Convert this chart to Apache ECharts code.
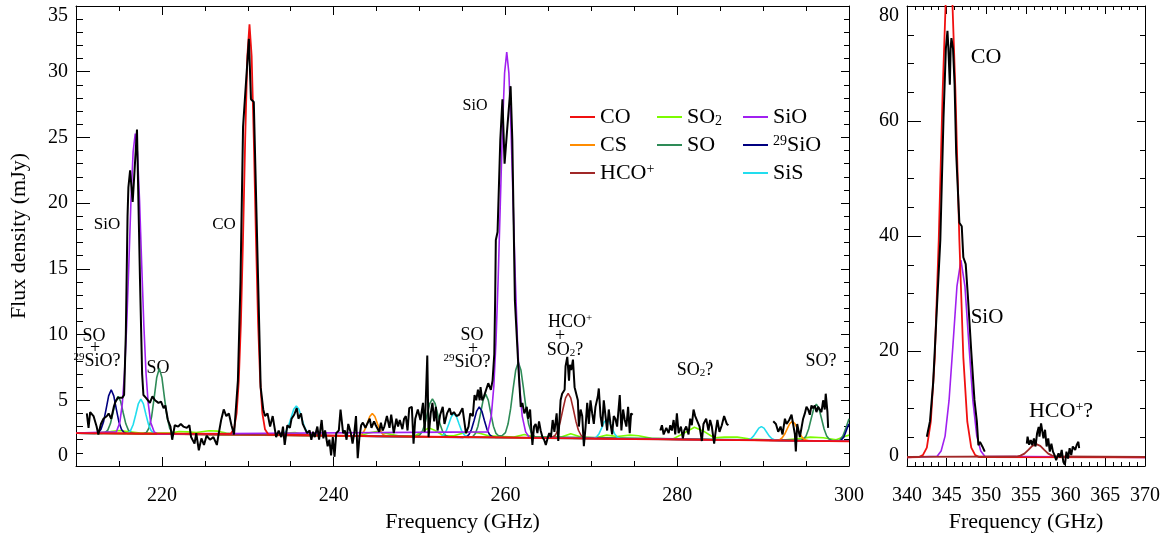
<!DOCTYPE html>
<html>
<head>
<meta charset="utf-8">
<title>Spectrum</title>
<script src="https://cdn.jsdelivr.net/npm/echarts@6/dist/echarts.min.js"></script>
<style>
html, body { margin: 0; padding: 0; background: #fff; }
#chart { width: 1166px; height: 544px; }
</style>
</head>
<body>
<div id="chart"></div>
<script>
const FONT = 'Liberation Serif'

// observed spectrum, 210-300 GHz panel (pieces between gaps)
const obsA = [[211.26,4.0],[211.46,2.9],[211.65,4.1],[212.04,3.8],[212.4,3.0],[212.6,2.4],[212.9,3.2],[213.2,3.6],[213.6,3.8],[213.8,4.0],[214.1,3.6],[214.4,4.5],[214.6,4.9],[214.9,5.2],[215.1,5.3],[215.4,5.2],[215.6,5.4],[215.8,10.0],[216.0,19.0],[216.1,21.2],[216.3,22.5],[216.6,20.1],[217.1,25.6],[217.45,14.2],[217.7,7.0],[217.85,5.4],[218.2,5.15],[218.6,4.8],[218.9,5.3],[219.2,5.0],[219.6,4.8],[219.9,4.9],[220.2,4.4],[220.4,4.6],[220.7,3.5],[221.0,3.0],[221.2,2.0],[221.5,3.1],[221.9,3.0],[222.2,3.2],[222.5,3.0],[222.9,2.9],[223.2,3.1],[223.4,2.2],[223.8,1.7],[224.0,2.5],[224.3,1.2],[224.6,2.1],[224.9,1.6],[225.2,2.3],[225.6,2.0],[226.0,2.2],[226.4,1.6],[226.6,2.4],[226.9,3.5],[227.2,4.3],[227.5,3.8],[227.8,4.0],[228.1,3.1],[228.4,2.4],[228.55,2.5],[228.85,6.5],[229.15,14.0],[229.45,25.8],[230.13,32.5],[230.37,27.9],[230.7,27.7],[231.2,14.2],[231.5,6.0],[231.8,4.3],[232.0,3.8],[232.3,4.0],[232.6,3.0],[232.9,3.8],[233.3,2.2],[233.6,2.7],[233.9,2.2],[234.1,3.0],[234.3,1.6],[234.6,3.1],[234.9,2.9],[235.1,3.6],[235.4,3.9],[235.7,4.4],[235.9,3.6],[236.2,4.0],[236.4,3.2],[236.6,3.1],[236.9,2.5],[237.2,2.7],[237.4,2.0],[237.6,2.6],[237.8,2.2],[238.1,3.0],[238.3,2.0],[238.6,3.5],[238.8,2.1],[239.0,2.7],[239.3,1.5],[239.5,2.0],[239.7,0.8],[239.9,2.2],[240.1,0.7],[240.3,2.5],[240.6,2.7],[240.8,4.3],[241.1,2.5],[241.3,2.7],[241.5,2.0],[241.7,3.2],[242.0,2.5],[242.2,1.7],[242.4,2.5],[242.6,3.8],[242.8,0.6],[243.0,2.2],[243.2,3.1],[243.4,3.3],[243.7,2.9],[243.9,3.2],[244.2,3.6],[244.4,2.9],[244.7,3.4],[244.9,3.1],[245.1,3.0],[245.3,2.6],[245.5,3.3],[245.7,2.7],[245.9,3.0],[246.2,3.8],[246.5,2.9],[246.7,3.9],[247.0,2.5],[247.3,3.6],[247.5,3.0],[247.7,3.5],[248.0,2.8],[248.2,3.6],[248.4,3.8],[248.6,2.7],[248.8,4.4],[249.1,4.5],[249.3,1.7],[249.5,3.6],[249.8,4.3],[250.1,3.5],[250.4,4.8],[250.6,2.6],[250.9,8.4],[251.05,2.2],[251.3,4.0],[251.5,4.8],[251.7,3.4],[251.9,4.5],[252.1,2.7],[252.4,3.9],[252.7,4.5],[252.9,3.2],[253.2,4.0],[253.5,4.4],[253.7,3.9],[254.0,4.1],[254.3,3.8],[254.6,3.9],[255.0,4.4],[255.4,2.5],[255.7,3.0],[255.9,4.0],[256.2,3.8],[256.4,5.4],[256.6,5.0],[256.8,5.8],[257.0,5.0],[257.1,6.0],[257.3,5.0],[257.5,5.3],[257.8,5.9],[258.0,6.3],[258.3,5.8],[258.5,6.5],[258.7,8.5],[258.8,12.6],[258.88,17.2],[259.08,17.8],[259.4,24.8],[259.65,27.9],[259.9,23.0],[260.2,25.6],[260.6,28.9],[260.8,24.8],[261.1,12.6],[261.5,7.6],[261.78,4.5],[261.97,4.8],[262.2,4.0],[262.48,4.5],[262.63,3.6],[262.87,4.3],[263.02,2.7],[263.14,1.6],[263.33,3.0],[263.52,3.2],[263.72,2.5],[263.91,3.4],[264.1,2.7],[264.3,2.2],[264.5,2.0],[264.7,1.6],[264.9,2.1],[265.1,2.5],[265.3,2.2],[265.5,3.5],[265.7,2.6],[265.96,4.0],[266.15,1.9],[266.42,5.0],[266.6,5.5],[266.89,5.8],[267.0,7.6],[267.2,8.3],[267.4,6.5],[267.5,7.7],[267.66,7.3],[267.86,8.1],[268.05,6.0],[268.24,5.5],[268.43,5.0],[268.55,3.0],[268.75,4.3],[268.94,3.8],[269.13,1.5],[269.33,3.0],[269.52,4.8],[269.71,3.2],[269.9,5.0],[270.1,4.0],[270.29,3.2],[270.48,4.5],[270.76,5.3],[270.87,5.9],[271.07,3.8],[271.26,3.0],[271.45,5.0],[271.65,3.8],[271.84,2.7],[272.03,4.3],[272.23,3.2],[272.42,2.4],[272.61,3.8],[272.8,3.6],[273.0,3.0],[273.31,5.4],[273.5,2.7],[273.7,4.3],[273.89,3.5],[274.08,3.0],[274.28,4.5],[274.47,2.5],[274.63,4.0],[274.82,3.9]]
const obsB = [[278.03,2.7],[278.22,3.1],[278.42,2.4],[278.73,2.9],[279.0,2.5],[279.19,3.1],[279.38,2.7],[279.58,3.5],[279.77,2.4],[279.96,4.0],[280.16,2.5],[280.43,3.0],[280.66,2.1],[280.82,2.7],[281.05,3.0],[281.32,2.4],[281.51,3.6],[281.7,3.1],[281.9,4.3],[282.09,3.8],[282.28,3.9],[282.6,3.0],[282.87,1.9],[283.06,3.2],[283.37,3.6],[283.64,2.7],[283.83,3.5],[284.03,3.0],[284.3,1.7],[284.45,2.5],[284.68,3.5],[284.92,2.6],[285.19,3.1],[285.46,3.8],[285.61,3.9],[285.77,3.2],[285.96,3.1]]
const obsC = [[291.18,3.4],[291.49,3.2],[291.76,2.6],[292.03,3.0],[292.26,2.4],[292.54,3.6],[292.73,3.2],[293.04,3.5],[293.31,3.9],[293.5,4.0],[293.7,2.4],[293.81,1.1],[293.97,3.2],[294.28,2.2],[294.47,2.9],[294.66,3.6],[294.86,4.0],[295.05,4.5],[295.24,4.3],[295.44,3.9],[295.63,4.6],[295.82,4.4],[296.01,4.6],[296.21,4.1],[296.4,4.5],[296.6,4.6],[296.79,4.1],[296.99,5.0],[297.18,4.3],[297.29,5.5],[297.49,4.1],[297.57,2.9]]

// observed spectrum, 340-370 GHz panel
const obsD = [[342.5,5.1],[342.9,7.8],[343.3,14.5],[343.8,28.4],[344.2,39.3],[344.6,60.5],[344.9,72.6],[345.1,75.7],[345.2,73.1],[345.4,66.3],[345.5,72.6],[345.6,74.4],[345.8,72.6],[346.0,66.3],[346.2,54.4],[346.6,42.3],[346.9,41.7],[347.1,36.3],[347.4,35.1],[347.7,29.0],[348.1,19.9],[348.5,11.5],[348.8,7.8],[349.0,3.6],[349.2,4.2],[349.5,3.4],[349.8,2.5]]
const obsE = [[355.1,3.9],[355.2,5.1],[355.4,3.7],[355.6,4.5],[355.8,3.6],[356.0,4.8],[356.2,3.4],[356.4,5.7],[356.6,6.8],[356.7,5.1],[356.9,7.4],[357.2,4.8],[357.4,6.3],[357.6,3.4],[357.8,4.8],[358.0,2.5],[358.2,3.9],[358.4,2.5],[358.6,1.9],[358.8,1.0],[359.1,2.2],[359.3,1.5],[359.5,2.8],[359.7,0.75],[359.9,0.2],[360.1,2.5],[360.3,1.3],[360.5,3.1],[360.7,1.9],[360.9,3.4],[361.2,2.8],[361.4,3.7],[361.6,4.2],[361.7,3.1]]

// model curves (continuum included), 210-300 GHz
const modelCO = [[210,2.5],[228.0,2.44],[228.4,2.83],[228.7,4.0],[228.95,6.45],[229.2,10.9],[229.45,17.4],[229.7,24.9],[229.95,31.2],[230.2,33.6],[230.45,31.2],[230.7,24.9],[230.95,17.4],[231.2,10.9],[231.45,6.4],[231.7,4.0],[232.0,2.8],[232.4,2.4],[245,2.26],[260,2.16],[275,2.05],[290,1.95],[300,1.88]]
const modelSiO = [[210,2.5],[214.7,2.6],[215.1,3.3],[215.4,4.8],[215.65,7.1],[215.9,10.7],[216.15,15.3],[216.4,20.2],[216.65,23.9],[216.9,25.3],[217.15,23.9],[217.4,20.2],[217.65,15.3],[217.9,10.7],[218.15,7.1],[218.4,4.8],[218.7,3.3],[219.1,2.6],[219.5,2.44],[257.95,2.6],[258.35,3.8],[258.65,6.1],[258.9,9.5],[259.15,14.2],[259.4,19.9],[259.65,25.6],[259.9,29.9],[260.15,31.5],[260.4,29.9],[260.65,25.6],[260.9,19.9],[261.15,14.2],[261.4,9.5],[261.65,6.1],[261.95,3.8],[262.35,2.6],[262.8,2.15],[300,1.88]]
const modelSO = [[210,2.5],[213.0,2.48],[213.4,2.54],[213.7,2.73],[214.0,3.21],[214.3,4.03],[214.6,4.91],[214.9,5.3],[215.2,4.91],[215.5,4.03],[215.8,3.21],[216.1,2.73],[216.4,2.54],[216.8,2.47],[217.8,2.44],[218.2,2.55],[218.5,2.89],[218.8,3.74],[219.1,5.19],[219.4,6.74],[219.7,7.43],[220.0,6.74],[220.3,5.19],[220.6,3.74],[220.9,2.89],[221.2,2.55],[221.6,2.43],[249.6,2.23],[250.0,2.34],[250.3,2.6],[250.6,3.15],[250.9,3.97],[251.2,4.77],[251.5,5.11],[251.8,4.77],[252.1,3.97],[252.4,3.15],[252.7,2.6],[253.0,2.34],[253.4,2.21],[255.8,2.18],[256.2,2.25],[256.5,2.48],[256.8,3.03],[257.1,3.99],[257.4,5.01],[257.7,5.47],[258.0,5.01],[258.3,3.99],[258.6,3.03],[258.9,2.48],[259.2,2.3],[259.6,2.3],[260.0,2.54],[260.3,3.19],[260.6,4.34],[260.9,5.9],[261.2,7.31],[261.5,7.89],[261.8,7.31],[262.1,5.9],[262.4,4.34],[262.7,3.19],[263.0,2.54],[263.4,2.22],[294.3,1.93],[294.7,2.03],[295.0,2.29],[295.3,2.82],[295.6,3.61],[295.9,4.38],[296.2,4.71],[296.5,4.38],[296.8,3.61],[297.1,2.82],[297.4,2.29],[297.7,2.03],[298.1,1.92],[298.9,1.95],[299.3,2.3],[299.7,3.0],[300,3.6]]
const model29SiO = [[210,2.5],[212.2,2.48],[212.6,2.55],[212.9,2.78],[213.2,3.34],[213.5,4.31],[213.8,5.34],[214.1,5.8],[214.4,5.34],[214.7,4.31],[215.0,3.34],[215.3,2.78],[215.6,2.55],[216.0,2.47],[255.05,2.18],[255.45,2.24],[255.75,2.39],[256.05,2.79],[256.35,3.46],[256.65,4.18],[256.95,4.5],[257.25,4.18],[257.55,3.46],[257.85,2.79],[258.15,2.39],[258.45,2.24],[258.85,2.17],[299.0,1.9],[299.4,2.2],[299.8,2.9],[300,3.2]]
const modelSiS = [[210,2.5],[215.65,2.45],[216.05,2.51],[216.35,2.69],[216.65,3.14],[216.95,3.9],[217.25,4.72],[217.55,5.08],[217.85,4.72],[218.15,3.9],[218.45,3.14],[218.75,2.69],[219.05,2.51],[219.45,2.44],[233.75,2.35],[234.15,2.43],[234.45,2.63],[234.75,3.06],[235.05,3.69],[235.35,4.31],[235.65,4.57],[235.95,4.31],[236.25,3.69],[236.55,3.06],[236.85,2.63],[237.15,2.43],[237.55,2.32],[252.1,2.2],[252.5,2.24],[252.8,2.37],[253.1,2.67],[253.4,3.19],[253.7,3.75],[254.0,4.0],[254.3,3.75],[254.6,3.19],[254.9,2.67],[255.2,2.37],[255.5,2.24],[255.9,2.18],[269.9,2.07],[270.3,2.11],[270.6,2.21],[270.9,2.46],[271.2,2.89],[271.5,3.35],[271.8,3.55],[272.1,3.35],[272.4,2.89],[272.7,2.46],[273.0,2.21],[273.3,2.11],[273.7,2.06],[287.9,1.96],[288.3,2.0],[288.6,2.09],[288.9,2.29],[289.2,2.59],[289.5,2.88],[289.8,3.0],[290.1,2.88],[290.4,2.59],[290.7,2.29],[291.0,2.09],[291.3,2.0],[291.7,1.94],[300,1.88]]
const modelCS = [[210,2.5],[242.6,2.27],[243.0,2.31],[243.3,2.43],[243.6,2.72],[243.9,3.22],[244.2,3.76],[244.5,4.0],[244.8,3.76],[245.1,3.22],[245.4,2.72],[245.7,2.43],[246.0,2.31],[246.4,2.26],[291.5,1.94],[291.9,1.99],[292.2,2.13],[292.5,2.41],[292.8,2.82],[293.1,3.23],[293.4,3.4],[293.7,3.23],[294.0,2.82],[294.3,2.41],[294.6,2.13],[294.9,1.99],[295.3,1.92],[300,1.88]]
const modelHCO = [[210,2.5],[265.4,2.15],[265.8,2.34],[266.1,2.72],[266.4,3.41],[266.7,4.34],[267.0,5.18],[267.3,5.53],[267.6,5.18],[267.9,4.34],[268.2,3.41],[268.5,2.72],[268.8,2.34],[269.2,2.1],[300,1.88]]
const modelSO2 = [[210,2.5],[212.5,2.52],[214.0,2.62],[215.0,2.7],[216.0,2.62],[217.5,2.5],[221.0,2.5],[222.0,2.62],[223.0,2.6],[224.0,2.55],[225.5,2.68],[226.5,2.65],[227.5,2.5],[229,2.4],[233,2.36],[234.5,2.5],[235.5,2.55],[236.5,2.4],[238,2.3],[243,2.3],[244,2.5],[245,2.62],[246,2.5],[247.5,2.3],[249.5,2.3],[250.5,2.7],[251.1,2.9],[251.8,2.7],[252.8,2.3],[254,2.3],[255,2.5],[256,2.6],[257,2.5],[258,2.3],[261,2.2],[262.2,2.4],[263.3,2.2],[266.5,2.2],[267.6,2.45],[268.8,2.2],[270.5,2.15],[271.8,2.35],[273,2.25],[274.5,2.35],[275.5,2.3],[277,2.1],[279.5,2.05],[280.8,2.5],[282,2.95],[283.2,2.6],[284.3,2.15],[285.5,2.2],[287,2.2],[288.5,2.05],[292,1.95],[294.5,2.1],[295.5,2.2],[297,2.15],[298.5,2.0],[299.5,2.25],[300,2.35]]

// model curves, 340-370 GHz
const modelCOHigh = [[340,1.5],[341.5,1.55],[342.0,1.9],[342.5,3.2],[343.0,7.7],[343.5,18.9],[344.0,39.3],[344.5,65.4],[345.0,85.6],[345.3,89.5],[345.6,85.6],[346.1,65.4],[346.6,39.3],[347.1,18.9],[347.6,7.7],[348.1,3.2],[348.6,1.9],[349.1,1.55],[370,1.5]]
const modelSiOHigh = [[340,1.5],[343.8,1.7],[344.3,2.6],[344.8,5.2],[345.3,11.4],[345.8,21.2],[346.3,31.3],[346.8,35.8],[347.3,31.3],[347.8,21.2],[348.3,11.4],[348.8,5.2],[349.3,2.6],[349.8,1.7],[370,1.5]]
const modelHCOHigh = [[340,1.6],[353.8,1.65],[354.3,1.8],[354.8,2.15],[355.3,2.8],[355.8,3.5],[356.3,3.8],[356.8,3.5],[357.3,2.8],[357.8,2.15],[358.3,1.8],[358.8,1.65],[370,1.6]]

const xLabelsLeft = [220, 240, 260, 280, 300]

const colors = {
  CO: '#f01010',
  CS: '#ff8c00',
  HCO: '#a02828',
  SO2: '#7cfc00',
  SO: '#2e8b57',
  SiO: '#a020f0',
  SiO29: '#000080',
  SiS: '#22ddee'
}

const richText = (size) => ({
  t: { fontSize: size, fontFamily: FONT, lineHeight: size, color: '#000', fill: '#000' },
  sup: { fontSize: Math.round(size * 0.62), fontFamily: FONT, lineHeight: Math.round(size * 0.35), verticalAlign: 'top', color: '#000', fill: '#000' },
  sub: { fontSize: Math.round(size * 0.62), fontFamily: FONT, lineHeight: Math.round(size * 0.35), verticalAlign: 'bottom', color: '#000', fill: '#000' }
})

const legendNames = {
  'CO': '{t|CO}',
  'CS': '{t|CS}',
  'HCO+': '{t|HCO}{sup|+}',
  'SO2': '{t|SO}{sub|2}',
  'SO': '{t|SO}',
  'SiO': '{t|SiO}',
  '29SiO': '{sup|29}{t|SiO}',
  'SiS': '{t|SiS}'
}

const line = (name, data, color, xi, yi, width) => ({
  name,
  type: 'line',
  data,
  xAxisIndex: xi,
  yAxisIndex: yi,
  color,
  showSymbol: false,
  symbol: 'none',
  lineStyle: { color, width: width || 1.6 },
  animation: false,
  silent: true
})

const xAxis = (grid, pos, min, max, opts) => Object.assign({
  type: 'value',
  gridIndex: grid,
  position: pos,
  min,
  max,
  splitLine: { show: false },
  axisLine: { show: true, onZero: false, lineStyle: { color: '#000', width: 1 } },
  axisLabel: { show: false },
  axisPointer: { show: false }
}, opts)

const yAxis = xAxis

const tick = (len, extra) => Object.assign({ show: true, inside: true, length: len, lineStyle: { color: '#000', width: 1 } }, extra)

const labelStyle = { color: '#000', fontFamily: FONT, fontSize: 20 }
const nameStyle = { color: '#000', fontFamily: FONT, fontSize: 22 }

const notes = [
  [107, 225, '{t|SiO}', 17],
  [224, 225, '{t|CO}', 17],
  [475, 106, '{t|SiO}', 16],
  [94, 336, '{t|SO}', 18],
  [95, 348, '{t|+}', 18],
  [97, 361, '{sup|29}{t|SiO?}', 18],
  [158, 368, '{t|SO}', 18],
  [472, 335, '{t|SO}', 18],
  [473, 349, '{t|+}', 18],
  [467, 362, '{sup|29}{t|SiO?}', 18],
  [570, 322, '{t|HCO}{sup|+}', 18],
  [560, 336, '{t|+}', 18],
  [565, 350, '{t|SO}{sub|2}{t|?}', 18],
  [695, 370, '{t|SO}{sub|2}{t|?}', 18],
  [821, 361, '{t|SO?}', 18],
  [986, 57, '{t|CO}', 22],
  [987, 317, '{t|SiO}', 21],
  [1061, 411, '{t|HCO}{sup|+}{t|?}', 22]
]

const chart = echarts.init(document.getElementById('chart'))

const legendBox = (left, names) => ({
  orient: 'vertical',
  left,
  top: 101,
  data: names,
  icon: 'rect',
  itemWidth: 25,
  itemHeight: 2,
  itemGap: 6,
  selectedMode: false,
  formatter: (n) => legendNames[n],
  textStyle: { rich: richText(22) }
})

chart.setOption({
  backgroundColor: '#fff',
  animation: false,
  grid: [
    { left: 74, right: 317, top: 6, bottom: 78 },
    { left: 907, right: 21, top: 6, bottom: 78 }
  ],
  legend: [
    legendBox(565, ['CO', 'CS', 'HCO+']),
    legendBox(652, ['SO2', 'SO']),
    legendBox(738, ['SiO', '29SiO', 'SiS'])
  ],
  xAxis: [
    xAxis(0, 'bottom', 210, 300, {
      interval: 5,
      axisTick: tick(5),
      axisLabel: Object.assign({ show: true, margin: 20, customValues: xLabelsLeft }, labelStyle),
      name: 'Frequency (GHz)', nameLocation: 'middle', nameGap: 44, nameTextStyle: nameStyle
    }),
    xAxis(0, 'bottom', 210, 300, { interval: 5, axisLine: { show: false, onZero: false }, axisTick: tick(9, { customValues: xLabelsLeft }) }),
    xAxis(0, 'top', 210, 300, { interval: 5, axisTick: tick(5) }),
    xAxis(0, 'top', 210, 300, { interval: 5, axisLine: { show: false, onZero: false }, axisTick: tick(9, { customValues: xLabelsLeft }) }),
    xAxis(1, 'bottom', 340, 370, {
      interval: 5,
      axisTick: tick(8),
      minorTick: { show: true, splitNumber: 5, length: 4, lineStyle: { color: '#000' } },
      axisLabel: Object.assign({ show: true, margin: 20 }, labelStyle),
      name: 'Frequency (GHz)', nameLocation: 'middle', nameGap: 44, nameTextStyle: nameStyle
    }),
    xAxis(1, 'top', 340, 370, {
      interval: 5,
      axisTick: tick(8),
      minorTick: { show: true, splitNumber: 5, length: 4, lineStyle: { color: '#000' } }
    })
  ],
  yAxis: [
    yAxis(0, 'left', 0, 35, {
      interval: 5,
      axisTick: tick(14),
      minorTick: { show: true, splitNumber: 5, length: 7, lineStyle: { color: '#000' } },
      axisLabel: Object.assign({ show: true, margin: 8, verticalAlignMaxLabel: 'top', verticalAlignMinLabel: 'bottom' }, labelStyle),
      name: 'Flux density (mJy)', nameLocation: 'middle', nameGap: 46, nameTextStyle: nameStyle
    }),
    yAxis(0, 'right', 0, 35, {
      interval: 5,
      axisTick: tick(8),
      minorTick: { show: true, splitNumber: 5, length: 5, lineStyle: { color: '#000' } }
    }),
    yAxis(1, 'left', 0, 80, {
      interval: 20,
      axisTick: tick(14),
      minorTick: { show: true, splitNumber: 4, length: 7, lineStyle: { color: '#000' } },
      axisLabel: Object.assign({ show: true, margin: 8, verticalAlignMaxLabel: 'top', verticalAlignMinLabel: 'bottom' }, labelStyle)
    }),
    yAxis(1, 'right', 0, 80, {
      interval: 20,
      axisTick: tick(8),
      minorTick: { show: true, splitNumber: 4, length: 5, lineStyle: { color: '#000' } }
    })
  ],
  series: [
    line('SO2', modelSO2, colors.SO2, 0, 0),
    line('SO', modelSO, colors.SO, 0, 0),
    line('29SiO', model29SiO, colors.SiO29, 0, 0),
    line('SiS', modelSiS, colors.SiS, 0, 0),
    line('CS', modelCS, colors.CS, 0, 0),
    line('HCO+', modelHCO, colors.HCO, 0, 0),
    line('SiO', modelSiO, colors.SiO, 0, 0),
    line('CO', modelCO, colors.CO, 0, 0, 1.8),
    line('obs', obsA, '#000', 0, 0, 2),
    line('obs', obsB, '#000', 0, 0, 2),
    line('obs', obsC, '#000', 0, 0, 2),
    line('SiO', modelSiOHigh, colors.SiO, 4, 2),
    line('CO', modelCOHigh, colors.CO, 4, 2, 1.8),
    line('HCO+', modelHCOHigh, colors.HCO, 4, 2, 1.8),
    line('obs', obsD, '#000', 4, 2, 2),
    line('obs', obsE, '#000', 4, 2, 2)
  ],
  graphic: notes.map(([x, y, text, size]) => ({
    type: 'text',
    x,
    y,
    silent: true,
    style: {
      text,
      rich: richText(size),
      fill: '#000',
      align: 'center',
      verticalAlign: 'middle'
    }
  }))
})
</script>
</body>
</html>
